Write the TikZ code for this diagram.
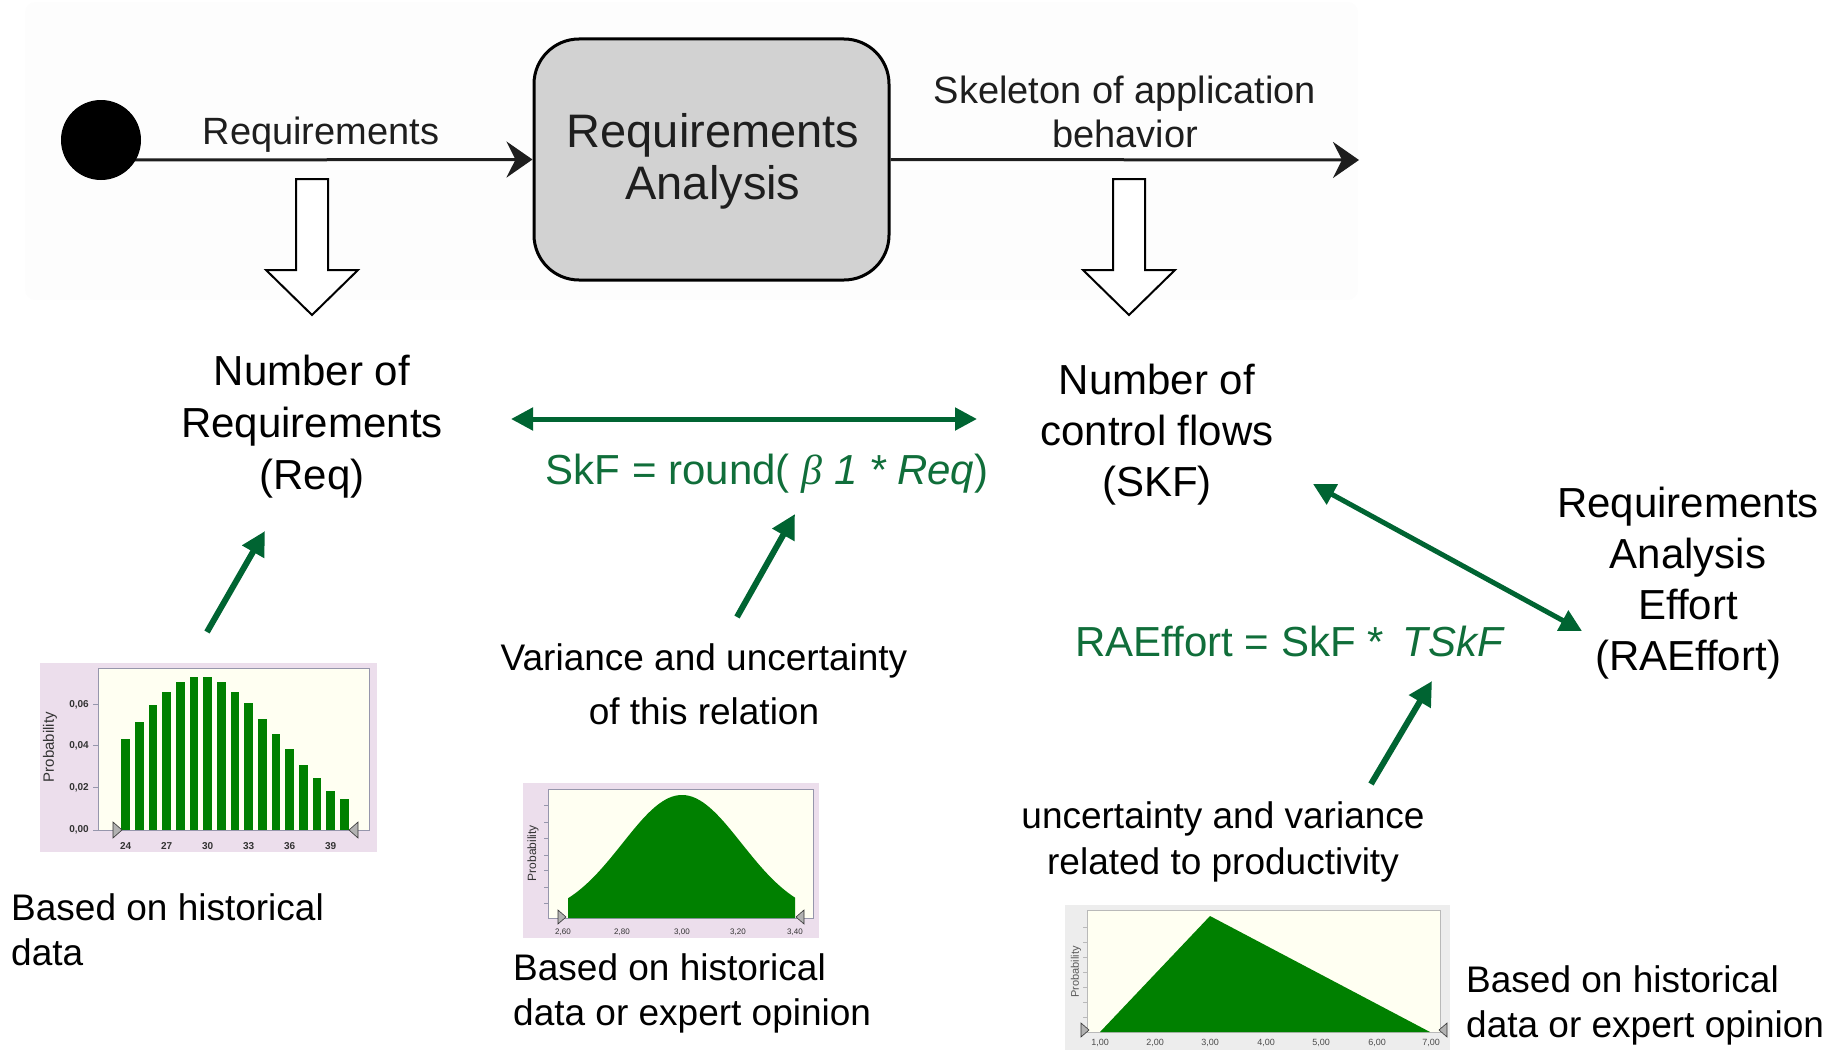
\documentclass[tikz,border=0pt]{standalone}
\usepackage{fontspec}
\setmainfont{Liberation Sans}
\newfontfamily\betafont{Liberation Serif}
\usetikzlibrary{arrows.meta,backgrounds}
\definecolor{grn}{RGB}{16,110,58}
\definecolor{grnarrow}{RGB}{0,100,50}
\definecolor{pinkbg}{RGB}{236,222,236}
\definecolor{cream}{RGB}{255,255,242}
\definecolor{framec}{RGB}{150,150,172}
\definecolor{barg}{RGB}{0,128,0}
\definecolor{boxgrey}{RGB}{210,210,210}
\definecolor{topink}{RGB}{30,30,30}
\definecolor{topbg}{RGB}{253,253,253}
\newcommand\fs[2]{\fontsize{#1}{#2}\selectfont}
\newcommand\hollowdown[1]{%
  \draw[line width=2pt, fill=white, line join=miter]
    ({#1-16},179) -- ({#1+16},179) -- ({#1+16},270) -- ({#1+46},270) --
    (#1,315) -- ({#1-46},270) -- ({#1-16},270) -- cycle;}
\tikzset{
  toptext/.style={text=topink, inner sep=0pt},
  flow/.style={draw=topink, line width=3pt, -{Stealth[length=26pt,width=36pt,inset=9pt]}},
  maintext/.style={align=center, inner sep=0pt, font=\fs{42}{52}},
  smalltext/.style={inner sep=0pt, font=\fs{37}{45}},
  formula/.style={text=grn, inner sep=0pt, font=\fs{42}{50}},
  garrow/.style={draw=grnarrow, line width=6pt, -{Triangle[length=24pt,width=24pt]}},
  gdouble/.style={draw=grnarrow, line width=5pt, {Triangle[length=22pt,width=22pt]}-{Triangle[length=22pt,width=22pt]}},
  ticklab/.style={inner sep=0pt, text=black!80},
  marker/.style={fill=gray!60, draw=gray!40!black, line width=0.6pt},
}
\begin{document}
\begin{tikzpicture}[x=1pt,y=-1pt]
\useasboundingbox (0,0) rectangle (1842,1057);

% ---------- top activity diagram ----------
\fill[topbg, rounded corners=10pt] (25,2) rectangle (1358,300);
\node[draw=black, line width=3pt, fill=boxgrey, rounded corners=45pt,
      minimum width=355pt, minimum height=241pt, inner sep=0pt] (ra) at (711.5,159.5) {};
\node[toptext, align=center, font=\fs{47}{52}] (ratext) at (713,161) {Requirements\\Analysis};
\coordinate (lstart) at (120,160);
\coordinate (endpt) at (1359,160);
\draw[flow] (lstart) -- (ra.west);
\draw[flow] (ra.east) -- (endpt);
\node[circle, fill=black, minimum size=80pt, inner sep=0pt] (start) at (101,140) {};
\node[toptext, font=\fs{38}{44}] (reqlab) at (321,135) {Requirements};
\node[toptext, align=center, font=\fs{38}{44}] (skel) at (1125,112) {Skeleton of application\\behavior};
\hollowdown{312}
\hollowdown{1129}

% ---------- main labels ----------
\node[maintext] (req) at (312,427) {Number of\\Requirements\\(Req)};
\node[maintext, font=\fs{42}{51}] (skf) at (1157,435) {Number of\\control flows\\(SKF)};
\node[maintext, font=\fs{42}{51}] (rae) at (1688,583) {Requirements\\Analysis\\Effort\\(RAEffort)};

\node[formula] (f1) at (767,474) {SkF = round( {\betafont\itshape β} \textit{1 * Req})};
\node[formula] (f2) at (1290,641) {RAEffort = SkF *\, \textit{TSkF}};

\node[smalltext, align=center, font=\fs{37}{54}] (var1) at (704,684) {Variance and uncertainty\\of this relation};
\node[smalltext, align=center, font=\fs{37}{46}] (var2) at (1223,842) {uncertainty and variance\\related to productivity};
\node[smalltext, align=left, anchor=west] (b1) at (11,930) {Based on historical\\data};
\node[smalltext, align=left, anchor=west] (b2) at (513,993) {Based on historical\\data or expert opinion};
\node[smalltext, align=left, anchor=west] (b3) at (1466,1005) {Based on historical\\data or expert opinion};

% ---------- green arrows ----------
\coordinate (d1a) at (511,419);
\coordinate (d1b) at (977,419);
\draw[gdouble] (d1a) -- (d1b);
\coordinate (d2a) at (1313,484);
\coordinate (d2b) at (1582,631);
\draw[gdouble] (d2a) -- (d2b);
\coordinate (a1s) at (207,632); \coordinate (a1e) at (265,531);
\draw[garrow] (a1s) -- (a1e);
\coordinate (a2s) at (737,617); \coordinate (a2e) at (795,514);
\draw[garrow] (a2s) -- (a2e);
\coordinate (a3s) at (1371,784); \coordinate (a3e) at (1432,681);
\draw[garrow] (a3s) -- (a3e);

% ---------- chart 1: bar chart ----------
\fill[pinkbg] (40,663) rectangle (377,852);
\draw[framec, fill=cream, line width=1pt] (98,668) rectangle (369,830);
\foreach \i/\t in {0/739.3,1/722.3,2/705.3,3/691.7,4/681.7,5/676.7,6/676.7,7/681.7,8/691.7,9/703.3,10/719,11/734.3,12/749.3,13/765,14/778.3,15/790.7,16/799.3}
  \fill[barg] ({125.7+13.67*\i-4.4},\t) rectangle ({125.7+13.67*\i+4.4},830);
\foreach \y/\l in {830/{0,00},787.7/{0,02},745.7/{0,04},704.3/{0,06}}{
  \draw[framec, line width=1pt] (93,\y) -- (98,\y);
  \node[ticklab, anchor=east, font=\bfseries\fs{10}{12}] at (89,\y) {\l};}
\foreach \x/\l in {125.7/24,166.7/27,207.7/30,248.7/33,289.7/36,330.7/39}{
  \node[ticklab, font=\bfseries\fs{10}{12}] at (\x,846) {\l};}
\node[ticklab, rotate=90, font=\fs{15}{17}] (p1) at (50,747) {Probability};
\draw[marker] (113,822) -- (122,830) -- (113,838) -- cycle;
\draw[marker] (358,822) -- (349,830) -- (358,838) -- cycle;

% ---------- chart 2: normal ----------
\fill[pinkbg] (523,783) rectangle (819,938);
\draw[framec, fill=cream, line width=1pt] (548,789) rectangle (813,918);
\fill[barg] (568,918) -- plot[domain=568:795, samples=80] (\x,{918-123*exp(-((\x-682)^2)/7104)}) -- (795,918) -- cycle;
\foreach \y in {805,822,838,855,870,887,903}
  \draw[framec, line width=0.8pt] (544,\y) -- (548,\y);
\foreach \x/\l in {563/{2,60},622/{2,80},682/{3,00},738/{3,20},795/{3,40}}
  \node[ticklab, font=\fs{8}{10}] at (\x,932) {\l};
\node[ticklab, rotate=90, font=\fs{12}{14}] (p2) at (533,853) {Probability};
\draw[marker] (558,910) -- (566,917) -- (558,924) -- cycle;
\draw[marker] (804,910) -- (796,917) -- (804,924) -- cycle;

% ---------- chart 3: triangular ----------
\fill[gray!14] (1065,905) rectangle (1450,1050);
\draw[gray!55, fill=cream, line width=0.8pt] (1087,910) rectangle (1440,1032);
\fill[barg] (1100,1032) -- (1210,916) -- (1430,1032) -- cycle;
\foreach \y in {927,942,957,972,987,1002,1017}
  \draw[gray!55, line width=0.8pt] (1083,\y) -- (1087,\y);
\foreach \x/\l in {1100/{1,00},1155/{2,00},1210/{3,00},1266/{4,00},1321/{5,00},1377/{6,00},1431/{7,00}}
  \node[ticklab, text=gray!60!black, font=\fs{9}{11}] at (\x,1043) {\l};
\node[ticklab, rotate=90, text=gray!70!black, font=\fs{11}{13}] (p3) at (1076,972) {Probability};
\draw[marker] (1081,1023) -- (1089,1030) -- (1081,1037) -- cycle;
\draw[marker] (1447,1023) -- (1439,1030) -- (1447,1037) -- cycle;
\end{tikzpicture}
\end{document}
